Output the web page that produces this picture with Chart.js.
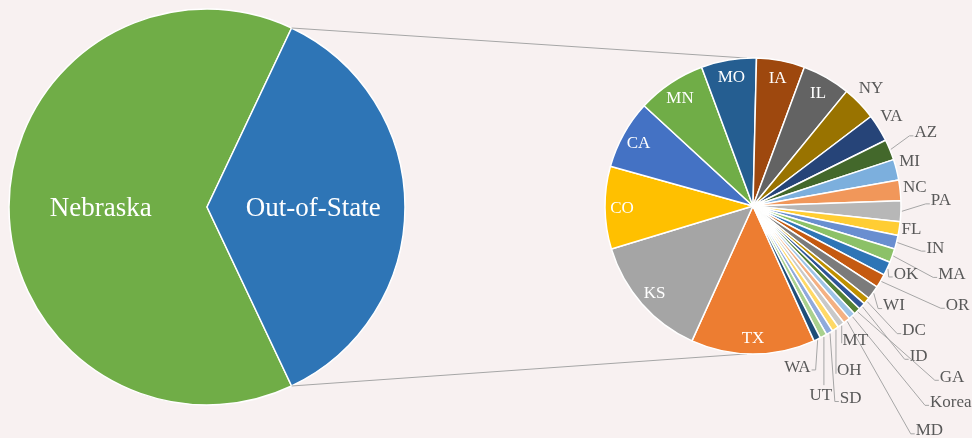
<!DOCTYPE html>
<html>
<head>
<meta charset="utf-8">
<script src="https://cdn.jsdelivr.net/npm/chart.js@4.4.1/dist/chart.umd.min.js"></script>
<style>
  html, body { margin: 0; padding: 0; background: #F8F1F1; }
  #wrap { position: relative; width: 972px; height: 438px; overflow: hidden; }
  #wrap canvas { position: absolute; left: 0; top: 0; }
</style>
</head>
<body>
<div id="wrap">
  <canvas id="mainPie" width="972" height="438"></canvas>
  <canvas id="detailPie" width="972" height="438"></canvas>
</div>
<script>
// ---------- data ----------
const mainLabels = ['Nebraska', 'Out-of-State'];
const mainValues = [237, 133];

const stateLabels = ['TX', 'KS', 'CO', 'CA', 'MN', 'MO', 'IA', 'IL', 'NY', 'VA',
  'AZ', 'MI', 'NC', 'PA', 'FL', 'IN', 'MA', 'OK', 'OR', 'WI',
  'DC', 'ID', 'GA', 'Korea', 'MD', 'MT', 'OH', 'SD', 'UT', 'WA'];
const stateValues = [18, 18, 12, 10, 10, 8, 7, 7, 5, 4,
  3, 3, 3, 3, 2, 2, 2, 2, 2, 2,
  1, 1, 1, 1, 1, 1, 1, 1, 1, 1];

// ---------- styling ----------
const mainColors = ['#70AD47', '#2E75B6'];
const stateColors = ['#ED7D31', '#A5A5A5', '#FFC000', '#4472C4', '#70AD47', '#255E91',
  '#9E480E', '#636363', '#997300', '#264478', '#43682B', '#7CAFDD', '#F1975A', '#B7B7B7',
  '#FFCD33', '#698ED0', '#8CC168', '#2E75B6', '#C55A11', '#7B7B7B', '#BF9000', '#2F5597',
  '#548235', '#9DC3E6', '#F4B183', '#C9C9C9', '#FFD966', '#8FAADC', '#A9D18E', '#1F4E79'];

const FONT = '"Liberation Serif", "Times New Roman", serif';
const insideLabels = ['TX', 'KS', 'CO', 'CA', 'MN', 'MO', 'IA', 'IL'];
// outside label placement: [angle shift (deg, clockwise), distance from centre (px), leader line]
const outsideLayout = {
  NY: [-1.1, 167, 0], VA: [-1.5, 165.5, 0], AZ: [-0.9, 188, 1], MI: [-2, 163, 0],
  NC: [-0.7, 163, 0], PA: [-3.9, 188, 1], FL: [-0.6, 160, 0], IN: [-1.5, 187, 1],
  MA: [-0.9, 210, 1], OK: [-1.4, 167, 1], OR: [-4.8, 227, 1], WI: [-0.9, 172, 1],
  DC: [-2.4, 203, 1], ID: [-0.6, 223, 1], GA: [-4.8, 262, 1], Korea: [-3.4, 278, 1],
  MD: [1, 285, 1], MT: [-1, 168, 1], OH: [3.4, 190, 1], SD: [4.1, 215, 1],
  UT: [8.6, 200, 1], WA: [10.2, 166, 1]
};

const sum = a => a.reduce((s, v) => s + v, 0);

// ---------- main pie ----------
const mainLabelPlugin = {
  id: 'mainLabels',
  afterDatasetsDraw(chart) {
    const ctx = chart.ctx;
    const arcs = chart.getDatasetMeta(0).data;
    ctx.save();
    ctx.font = '27px ' + FONT;
    ctx.fillStyle = '#FFFFFF';
    ctx.textAlign = 'center';
    ctx.textBaseline = 'alphabetic';
    arcs.forEach((arc, i) => {
      const p = arc.getProps(['x', 'y', 'startAngle', 'endAngle', 'outerRadius'], true);
      const mid = (p.startAngle + p.endAngle) / 2;
      const d = p.outerRadius * 0.537;
      ctx.fillText(mainLabels[i], p.x + d * Math.cos(mid), p.y + d * Math.sin(mid) + 8.8);
    });
    ctx.restore();
  }
};

const mainOut = mainValues[1] / sum(mainValues);
new Chart(document.getElementById('mainPie'), {
  type: 'pie',
  data: {
    labels: mainLabels,
    datasets: [{
      data: mainValues,
      backgroundColor: mainColors,
      borderColor: '#FFFFFF',
      borderWidth: 1.5
    }]
  },
  options: {
    responsive: false,
    animation: false,
    rotation: 90 + 180 * mainOut,
    radius: 198,
    layout: { padding: { left: 9, top: 9, right: 567, bottom: 33 } },
    plugins: { legend: { display: false }, tooltip: { enabled: false } }
  },
  plugins: [mainLabelPlugin]
});

// ---------- detail pie ----------
const detailPlugin = {
  id: 'detailLabels',
  beforeDatasetsDraw(chart) {
    // connector lines from the Out-of-State slice to the detail pie
    const mainChart = Chart.getChart('mainPie');
    if (!mainChart) return;
    const outArc = mainChart.getDatasetMeta(0).data[1].getProps(['x', 'y', 'startAngle', 'endAngle', 'outerRadius'], true);
    const d = chart.getDatasetMeta(0).data[0].getProps(['x', 'y', 'outerRadius'], true);
    const ctx = chart.ctx;
    const a1 = -Math.PI / 2 - 0.04, a2 = Math.PI / 2 + 0.04;
    ctx.save();
    ctx.strokeStyle = '#A6A6A6';
    ctx.lineWidth = 1;
    ctx.beginPath();
    ctx.moveTo(outArc.x + outArc.outerRadius * Math.cos(outArc.startAngle), outArc.y + outArc.outerRadius * Math.sin(outArc.startAngle));
    ctx.lineTo(d.x + d.outerRadius * Math.cos(a1), d.y + d.outerRadius * Math.sin(a1));
    ctx.moveTo(outArc.x + outArc.outerRadius * Math.cos(outArc.endAngle), outArc.y + outArc.outerRadius * Math.sin(outArc.endAngle));
    ctx.lineTo(d.x + d.outerRadius * Math.cos(a2), d.y + d.outerRadius * Math.sin(a2));
    ctx.stroke();
    ctx.restore();
  },
  afterDatasetsDraw(chart) {
    const ctx = chart.ctx;
    const arcs = chart.getDatasetMeta(0).data;
    ctx.save();
    ctx.font = '17px ' + FONT;
    ctx.textAlign = 'center';
    ctx.textBaseline = 'alphabetic';
    arcs.forEach((arc, i) => {
      const p = arc.getProps(['x', 'y', 'startAngle', 'endAngle', 'outerRadius'], true);
      const mid = (p.startAngle + p.endAngle) / 2;
      const name = stateLabels[i];
      if (insideLabels.includes(name)) {
        const dist = p.outerRadius - 17;
        ctx.fillStyle = '#FFFFFF';
        ctx.fillText(name, p.x + dist * Math.cos(mid), p.y + dist * Math.sin(mid) + 5.6);
        return;
      }
      const lay = outsideLayout[name];
      if (!lay) return;
      const ang = mid + lay[0] * Math.PI / 180;
      const lx = p.x + lay[1] * Math.cos(ang);
      const ly = p.y + lay[1] * Math.sin(ang);
      const w = ctx.measureText(name).width;
      if (lay[2]) {
        const ax = p.x + (p.outerRadius + 1) * Math.cos(mid);
        const ay = p.y + (p.outerRadius + 1) * Math.sin(mid);
        const l = lx - w / 2, r = lx + w / 2;
        ctx.strokeStyle = '#A6A6A6';
        ctx.lineWidth = 1;
        ctx.beginPath();
        ctx.moveTo(ax, ay);
        if (ax <= l + 3) {
          const ex = ax > l - 5 ? ax : l - 5;
          ctx.lineTo(ex, ly + 4);
          ctx.lineTo(l - 1, ly + 4);
        } else if (ax >= r - 3) {
          const ex = ax < r + 5 ? ax : r + 5;
          ctx.lineTo(ex, ly + 4);
          ctx.lineTo(r + 1, ly + 4);
        } else {
          ctx.lineTo(ax, ly - 9);
        }
        ctx.stroke();
      }
      ctx.fillStyle = '#595959';
      ctx.fillText(name, lx, ly + 5.6);
    });
    ctx.restore();
  }
};

new Chart(document.getElementById('detailPie'), {
  type: 'pie',
  data: {
    labels: stateLabels,
    datasets: [{
      data: stateValues,
      backgroundColor: stateColors,
      borderColor: '#FFFFFF',
      borderWidth: 1.5
    }]
  },
  options: {
    responsive: false,
    animation: false,
    rotation: 180 - 180 * stateValues[0] / sum(stateValues),
    radius: 148,
    layout: { padding: { left: 605, top: 58, right: 71, bottom: 84 } },
    plugins: { legend: { display: false }, tooltip: { enabled: false } }
  },
  plugins: [detailPlugin]
});
</script>
</body>
</html>
